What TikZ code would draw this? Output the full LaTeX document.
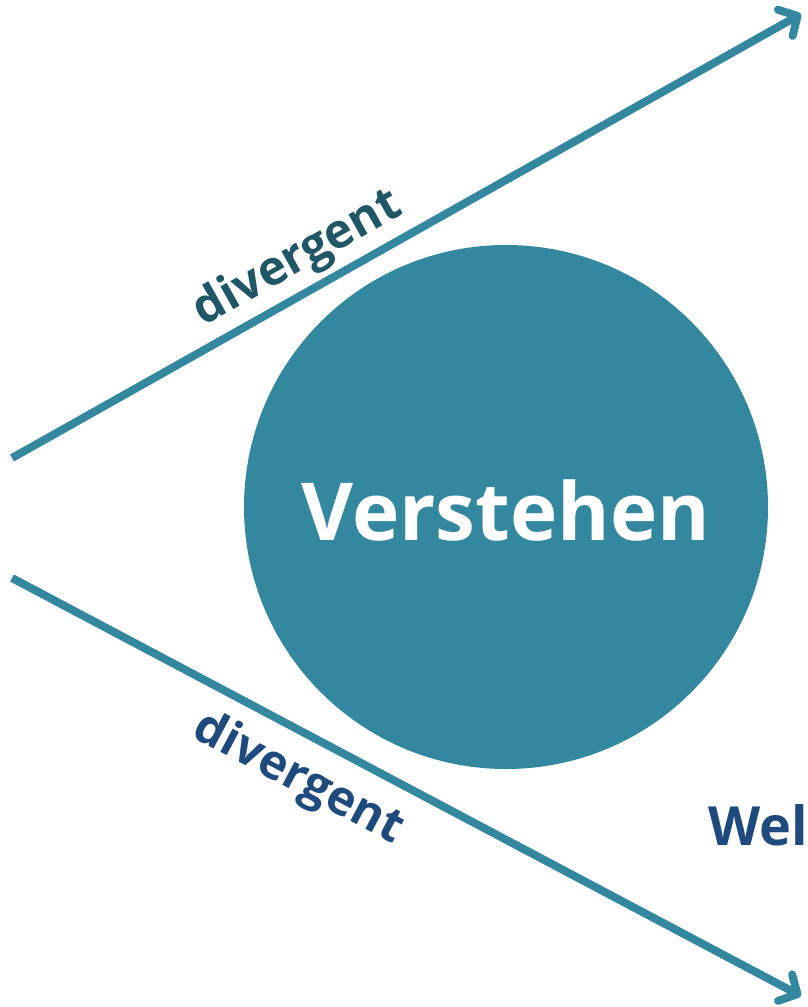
\documentclass[tikz,border=0pt]{standalone}
\usepackage{fontspec}
\setmainfont{Open Sans}
\usetikzlibrary{arrows.meta}
\definecolor{teal}{HTML}{3388A0}
\definecolor{tealdark}{HTML}{1F5766}
\definecolor{navy}{HTML}{1F4A7E}
\begin{document}
\begin{tikzpicture}[x=1pt,y=-1pt,
  flow/.style={draw=teal,line width=8pt,-{Straight Barb[length=14pt,width=30pt,line width=8pt,round]}},
  lbl/.style={font=\bfseries\fontsize{48}{48}\selectfont,inner sep=0pt}]
\useasboundingbox (0,0) rectangle (807,1007);
\fill[teal] (506,507) circle (262);
\node[text=white,font=\bfseries\fontsize{80}{80}\selectfont,inner sep=0pt] (core) at (506,510) {Verstehen};
\coordinate (ua) at (12,458);
\coordinate (ub) at (801,14);
\coordinate (la) at (12,578);
\coordinate (lb) at (801,996);
\draw[flow] (ua) -- (ub);
\draw[flow] (la) -- (lb);
\node[lbl,text=tealdark,rotate=29.4] (dup) at (298,259) {divergent};
\node[lbl,text=navy,rotate=-28] (dlow) at (298,779) {divergent};
\node[lbl,text=navy,anchor=base west,font=\bfseries\fontsize{54}{54}\selectfont] (wel) at (708,845) {Wel};
\end{tikzpicture}
\end{document}
